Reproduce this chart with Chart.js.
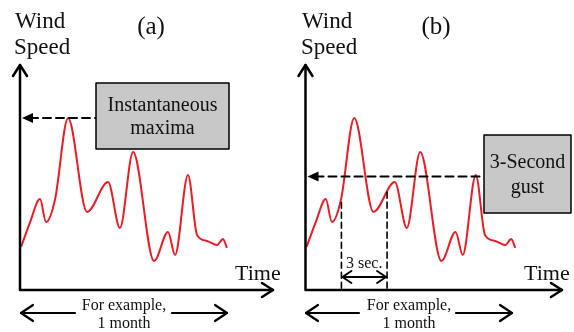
<!DOCTYPE html>
<html>
<head>
<meta charset="utf-8">
<script src="https://cdn.jsdelivr.net/npm/chart.js@4.4.1/dist/chart.umd.min.js"></script>
<style>
  html, body { margin: 0; padding: 0; background: #fff; }
  #wrap { position: relative; width: 574px; height: 332px; }
  canvas { position: absolute; top: 0; }
</style>
</head>
<body>
<div id="wrap">
  <canvas id="chartA" width="290" height="332" style="left:0"></canvas>
  <canvas id="chartB" width="284" height="332" style="left:290px"></canvas>
</div>
<script>
// Schematic wind record (time and speed in arbitrary 0-100 units)
const timeValues = [0.4, 4.0, 7.9, 10.3, 13.8, 19.0, 26.5, 34.8, 39.5, 44.7, 53.0, 58.5, 61.3, 66.4, 70.0, 73.9, 77.9, 80.2, 81.8];
const windSpeed  = [19.1, 30.2, 40.4, 30.2, 40.0, 76.4, 34.7, 48.0, 27.6, 61.3, 12.9, 25.8, 15.6, 51.1, 24.4, 21.8, 20.0, 22.7, 18.7];

const maximaLevel = 76.4;         // instantaneous maximum
const gustLevel = 50.5;           // 3-second gust
const gustWindow = [14.0, 31.8];  // start / end of the 3 s window
const gustWindowSpeed = [39.0, 43.5];

const FONT = '"Liberation Serif", "Times New Roman", serif';
const RED = '#ec1c24';

function arrowHead(ctx, x, y, dir, len, half) {
  // open chevron; dir: 'up' | 'right' | 'left'
  ctx.beginPath();
  if (dir === 'up') { ctx.moveTo(x - half, y + len); ctx.lineTo(x, y); ctx.lineTo(x + half, y + len); }
  if (dir === 'right') { ctx.moveTo(x - len, y - half); ctx.lineTo(x, y); ctx.lineTo(x - len, y + half); }
  if (dir === 'left') { ctx.moveTo(x + len, y - half); ctx.lineTo(x, y); ctx.lineTo(x + len, y + half); }
  ctx.stroke();
}

function text(ctx, s, x, y, size, align) {
  ctx.font = size + 'px ' + FONT;
  ctx.textAlign = align || 'left';
  ctx.textBaseline = 'alphabetic';
  ctx.fillStyle = '#111';
  ctx.fillText(s, x, y);
}

const decorPlugin = {
  id: 'decor',
  afterDraw(chart, args, opts) {
    const { ctx, chartArea: a, scales } = chart;
    const xs = scales.x, ys = scales.y;
    ctx.save();
    ctx.strokeStyle = '#000';
    ctx.lineCap = 'round';
    ctx.lineJoin = 'round';

    // axes
    ctx.lineWidth = 2.5;
    ctx.beginPath();
    ctx.moveTo(a.left, a.top); ctx.lineTo(a.left, a.bottom); ctx.lineTo(a.right, a.bottom);
    ctx.stroke();
    arrowHead(ctx, a.left, a.top, 'up', 11, 7);
    arrowHead(ctx, a.right, a.bottom, 'right', 11, 7);

    // labels
    text(ctx, 'Wind', opts.windX, 28, 23);
    text(ctx, 'Speed', opts.windX - 1, 54, 23);
    text(ctx, opts.title, opts.titleX, 34, 25, 'center');
    text(ctx, 'Time', opts.timeX, 280, 22);

    // dashed level line to the box
    const ly = ys.getPixelForValue(opts.level);
    ctx.lineWidth = 2;
    ctx.setLineDash([8, 5]);
    ctx.beginPath();
    ctx.moveTo(a.left + 10, ly); ctx.lineTo(opts.box.x, ly);
    ctx.stroke();
    ctx.setLineDash([]);
    ctx.fillStyle = '#000';
    ctx.beginPath();
    ctx.moveTo(a.left + 2, ly); ctx.lineTo(a.left + 13, ly - 5); ctx.lineTo(a.left + 13, ly + 5);
    ctx.closePath(); ctx.fill();

    // grey box
    const b = opts.box;
    ctx.fillStyle = '#c8c8c8';
    ctx.fillRect(b.x, b.y, b.w, b.h);
    ctx.lineWidth = 1.5;
    ctx.strokeRect(b.x, b.y, b.w, b.h);
    b.lines.forEach((s, i) => text(ctx, s, b.x + b.w / 2, b.base[i], 20, 'center'));

    // 3 second window
    if (opts.gust) {
      const x1 = xs.getPixelForValue(gustWindow[0]);
      const x2 = xs.getPixelForValue(gustWindow[1]);
      ctx.lineWidth = 1.6;
      ctx.setLineDash([6, 4]);
      ctx.beginPath();
      ctx.moveTo(x1, ys.getPixelForValue(gustWindowSpeed[0])); ctx.lineTo(x1, a.bottom);
      ctx.moveTo(x2, ys.getPixelForValue(gustWindowSpeed[1])); ctx.lineTo(x2, a.bottom);
      ctx.stroke();
      ctx.setLineDash([]);
      ctx.lineWidth = 2;
      ctx.beginPath(); ctx.moveTo(x1 + 1, 277); ctx.lineTo(x2 - 1, 277); ctx.stroke();
      arrowHead(ctx, x1 + 1, 277, 'left', 9, 6);
      arrowHead(ctx, x2 - 1, 277, 'right', 9, 6);
      text(ctx, '3 sec.', (x1 + x2) / 2, 268, 16, 'center');
    }

    // bottom span arrow
    const s = opts.span;
    ctx.lineWidth = 2.2;
    ctx.beginPath();
    ctx.moveTo(s.x1, 313); ctx.lineTo(s.g1, 313);
    ctx.moveTo(s.g2, 313); ctx.lineTo(s.x2, 313);
    ctx.stroke();
    arrowHead(ctx, s.x1, 313, 'left', 12, 8);
    arrowHead(ctx, s.x2, 313, 'right', 12, 8);
    text(ctx, 'For example,', s.tx, 310, 16, 'center');
    text(ctx, '1 month', s.tx, 328, 16, 'center');

    ctx.restore();
  }
};

function drawPanel(canvasId, padding, decor) {
  const ctx = document.getElementById(canvasId);
  return new Chart(ctx, {
    type: 'line',
    data: {
      datasets: [{
        data: timeValues.map((t, i) => ({ x: t, y: windSpeed[i] })),
        borderColor: RED,
        borderWidth: 2,
        pointRadius: 0,
        cubicInterpolationMode: 'monotone',
        clip: false
      }]
    },
    options: {
      responsive: false,
      animation: false,
      layout: { padding },
      scales: {
        x: { type: 'linear', min: 0, max: 100, display: false },
        y: { min: 0, max: 100, display: false }
      },
      plugins: { legend: { display: false }, tooltip: { enabled: false }, decor }
    },
    plugins: [decorPlugin]
  });
}

drawPanel('chartA', { left: 20, right: 17, top: 65, bottom: 42 }, {
  title: '(a)', titleX: 151, windX: 15, timeX: 235,
  level: maximaLevel,
  box: { x: 96, y: 83, w: 133, h: 66, lines: ['Instantaneous', 'maxima'], base: [111, 134] },
  gust: false,
  span: { x1: 21, x2: 227, g1: 75, g2: 172, tx: 124 }
});

drawPanel('chartB', { left: 15.5, right: 12, top: 65, bottom: 42 }, {
  title: '(b)', titleX: 146, windX: 12, timeX: 234,
  level: gustLevel,
  box: { x: 194, y: 135, w: 87, h: 78, lines: ['3-Second', 'gust'], base: [168, 193] },
  gust: true,
  span: { x1: 16, x2: 222, g1: 69, g2: 166, tx: 119 }
});
</script>
</body>
</html>
